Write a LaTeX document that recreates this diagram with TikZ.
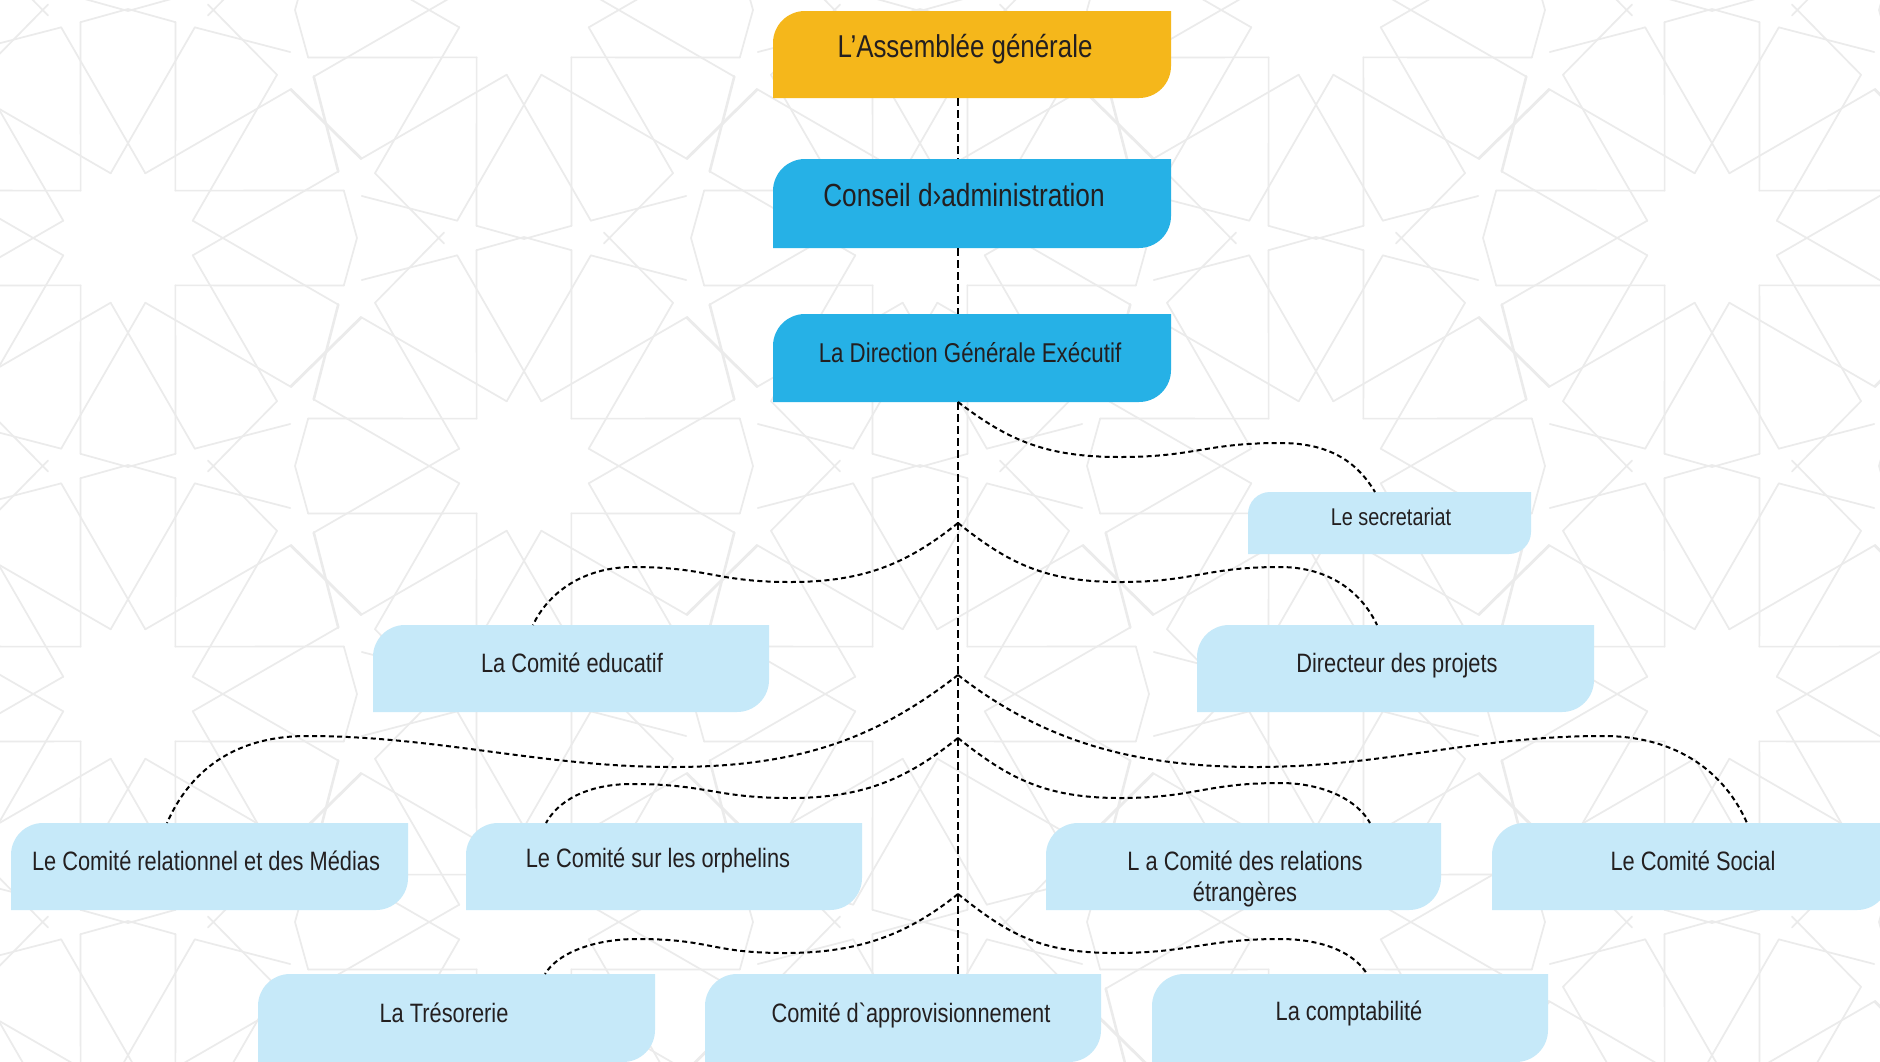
\documentclass[tikz,border=0pt]{standalone}
\usepackage{fontspec}
\setmainfont{Liberation Sans}[FakeStretch=0.82,Ligatures=TeXOff]
\usetikzlibrary{calc}
\definecolor{patc}{HTML}{EBEBEB}
\definecolor{orng}{HTML}{F5B71B}
\definecolor{bleu}{HTML}{26B1E6}
\definecolor{clair}{HTML}{C6E9F9}
\definecolor{ink}{HTML}{231F20}
\newcommand\obox[7]{%
  \node[boxn,minimum width=#4*0.5pt,minimum height=#5*0.5pt] (#1) at (#2,#3) {};
  \fill[#6] (#1.south west) -- ([yshift=-#7]#1.north west) arc[start angle=180,end angle=90,radius=#7]
    -- (#1.north east) -- ([yshift=#7]#1.south east) arc[start angle=0,end angle=-90,radius=#7] -- cycle;}
\begin{document}
\begin{tikzpicture}[x=0.5pt,y=-0.5pt,
  pat/.style={draw=patc,line width=0.85pt,line cap=round},
  boxn/.style={inner sep=0pt,outer sep=0pt,draw=none,rectangle},
  tx/.style={inner sep=0pt,text=ink,font=\fontsize{#1}{#1}\selectfont,text height=0.72*#1pt,text depth=0pt},
  tx/.default=13.3,
  spine/.style={draw=black,line width=1pt,dash pattern=on 4.2pt off 1.8pt},
  conn/.style={draw=black,line width=1pt,dash pattern=on 2.5pt off 1.7pt}]
\useasboundingbox (0,0) rectangle (1880,1061);
\fill[white] (0,0) rectangle (1880,1061);
% background geometric pattern
\begin{scope}
\clip (0,0) rectangle (1880,1061);
\foreach \cx/\cy in {128/-218,920/-218,1712/-218,
  -268/10,524/10,1316/10,2108/10,
  128/238,920/238,1712/238,
  -268/466,524/466,1316/466,2108/466,
  128/694,920/694,1712/694,
  -268/922,524/922,1316/922,2108/922,
  128/1150,920/1150,1712/1150,
  -268/1378,524/1378,1316/1378,2108/1378}{
  \begin{scope}[shift={(\cx,\cy)}]
  \foreach \k in {0,...,11}{
    \pgfmathsetmacro\t{30*\k}
    \pgfmathtruncatemacro\m{mod(\k,3)}
    \draw[pat] (\t+15:67) -- (\t-17.6:221);
    \draw[pat] (\t-15:67) -- (\t+17.6:221);
    \ifnum\m=0
      \draw[pat] (\t+12.4:221) -- (\t:229) -- (\t-12.4:221);
    \else
      \draw[pat] (\t+12.4:221) -- ($(\t+12.4:221)!2!(\t:229)$);
      \draw[pat] (\t-12.4:221) -- ($(\t-12.4:221)!2!(\t:229)$);
    \fi
  }
  \end{scope}
}
\end{scope}
% boxes
\obox{ag}{972}{54.5}{398}{87}{orng}{16pt}
\obox{ca}{972}{203.5}{398}{89}{bleu}{16pt}
\obox{dg}{972}{358}{398}{88}{bleu}{16pt}
\obox{sec}{1389.5}{523}{283}{62}{clair}{11pt}
\obox{edu}{571}{668.5}{396}{87}{clair}{16pt}
\obox{dir}{1395.5}{668.5}{397}{87}{clair}{16pt}
\obox{rel}{209.5}{866.5}{397}{87}{clair}{16pt}
\obox{orph}{664}{866.5}{396}{87}{clair}{16pt}
\obox{relx}{1243.5}{866.5}{395}{87}{clair}{16pt}
\obox{soc}{1690.5}{866.5}{397}{87}{clair}{16pt}
\obox{tres}{456.5}{1018}{397}{88}{clair}{16pt}
\obox{appro}{903}{1018}{396}{88}{clair}{16pt}
\obox{compta}{1350}{1018}{396}{88}{clair}{16pt}
% spine
\coordinate (b0) at ([xshift=-7pt]dg.south);
\coordinate (b1) at (958,523);
\coordinate (b2) at (958,675);
\coordinate (b3) at (958,738);
\coordinate (b4) at (958,894);
\draw[spine] ([xshift=-7pt]ag.south) -- ([xshift=-7pt]ca.north);
\draw[spine] ([xshift=-7pt]ca.south) -- ([xshift=-7pt]dg.north);
\draw[spine] (b0) -- (b0 |- appro.north);
% connector ends
\coordinate (e-sec) at ($(sec.north west)+(127,0)$);
\coordinate (e-dir) at ($(dir.north west)+(180,0)$);
\coordinate (e-edu) at ($(edu.north west)+(160,0)$);
\coordinate (e-rel) at ($(rel.north west)+(156,0)$);
\coordinate (e-soc) at ($(soc.north west)+(255,0)$);
\coordinate (e-orph) at ($(orph.north west)+(80,0)$);
\coordinate (e-relx) at ($(relx.north west)+(324,0)$);
\coordinate (e-tres) at ($(tres.north west)+(287,0)$);
\coordinate (e-compta) at ($(compta.north west)+(215,0)$);
% connectors
\draw[conn] (b0) .. controls +(50,38) and +(-75,0) .. (1120,457) .. controls +(75,0) and +(-75,0) .. (1280,443) .. controls +(50,0) and +(-18,-30) .. (e-sec);
\draw[conn] (b1) .. controls +(50,40) and +(-75,0) .. (1120,582) .. controls +(75,0) and +(-75,0) .. (1280,567) .. controls +(50,0) and +(-15,-32) .. (e-dir);
\draw[conn] (b1) .. controls +(-50,40) and +(75,0) .. (790,582) .. controls +(-75,0) and +(75,0) .. (633,567) .. controls +(-50,0) and +(15,-32) .. (e-edu);
\draw[conn] (b2) .. controls +(-80,62) and +(130,0) .. (672,767) .. controls +(-130,0) and +(130,0) .. (307,736) .. controls +(-75,0) and +(22,-50) .. (e-rel);
\draw[conn] (b2) .. controls +(80,62) and +(-130,0) .. (1255,767) .. controls +(130,0) and +(-130,0) .. (1603,736) .. controls +(75,0) and +(-22,-50) .. (e-soc);
\draw[conn] (b3) .. controls +(-50,40) and +(75,0) .. (790,798) .. controls +(-75,0) and +(75,0) .. (632,784) .. controls +(-45,0) and +(12,-22) .. (e-orph);
\draw[conn] (b3) .. controls +(50,40) and +(-75,0) .. (1120,798) .. controls +(75,0) and +(-75,0) .. (1280,783) .. controls +(45,0) and +(-12,-22) .. (e-relx);
\draw[conn] (b4) .. controls +(-50,40) and +(75,0) .. (785,953) .. controls +(-75,0) and +(75,0) .. (637,939) .. controls +(-45,0) and +(12,-20) .. (e-tres);
\draw[conn] (b4) .. controls +(50,40) and +(-75,0) .. (1115,953) .. controls +(75,0) and +(-75,0) .. (1280,939) .. controls +(45,0) and +(-12,-20) .. (e-compta);
% texts
\node[tx=15.8] (ag-t) at (965,46) {L’Assemblée générale};
\node[tx=16] (ca-t) at (964,195) {Conseil d›administration};
\node[tx=13.6] (dg-t) at (970,353) {La Direction Générale Exécutif};
\node[tx=12.1] (sec-t) at (1391,517) {Le secretariat};
\node[tx] (edu-t) at (572,663) {La Comité educatif};
\node[tx] (dir-t) at (1397,663) {Directeur des projets};
\node[tx] (rel-t) at (206,861) {Le Comité relationnel et des Médias};
\node[tx] (orph-t) at (658,858) {Le Comité sur les orphelins};
\node[tx] (relx-t1) at (1245,861) {L a Comité des relations};
\node[tx] (relx-t2) at (1245,892) {étrangères};
\node[tx] (soc-t) at (1693,861) {Le Comité Social};
\node[tx] (tres-t) at (444,1013) {La Trésorerie};
\node[tx] (appro-t) at (911,1013) {Comité d`approvisionnement};
\node[tx] (compta-t) at (1349,1011) {La comptabilité};
\end{tikzpicture}
\end{document}
